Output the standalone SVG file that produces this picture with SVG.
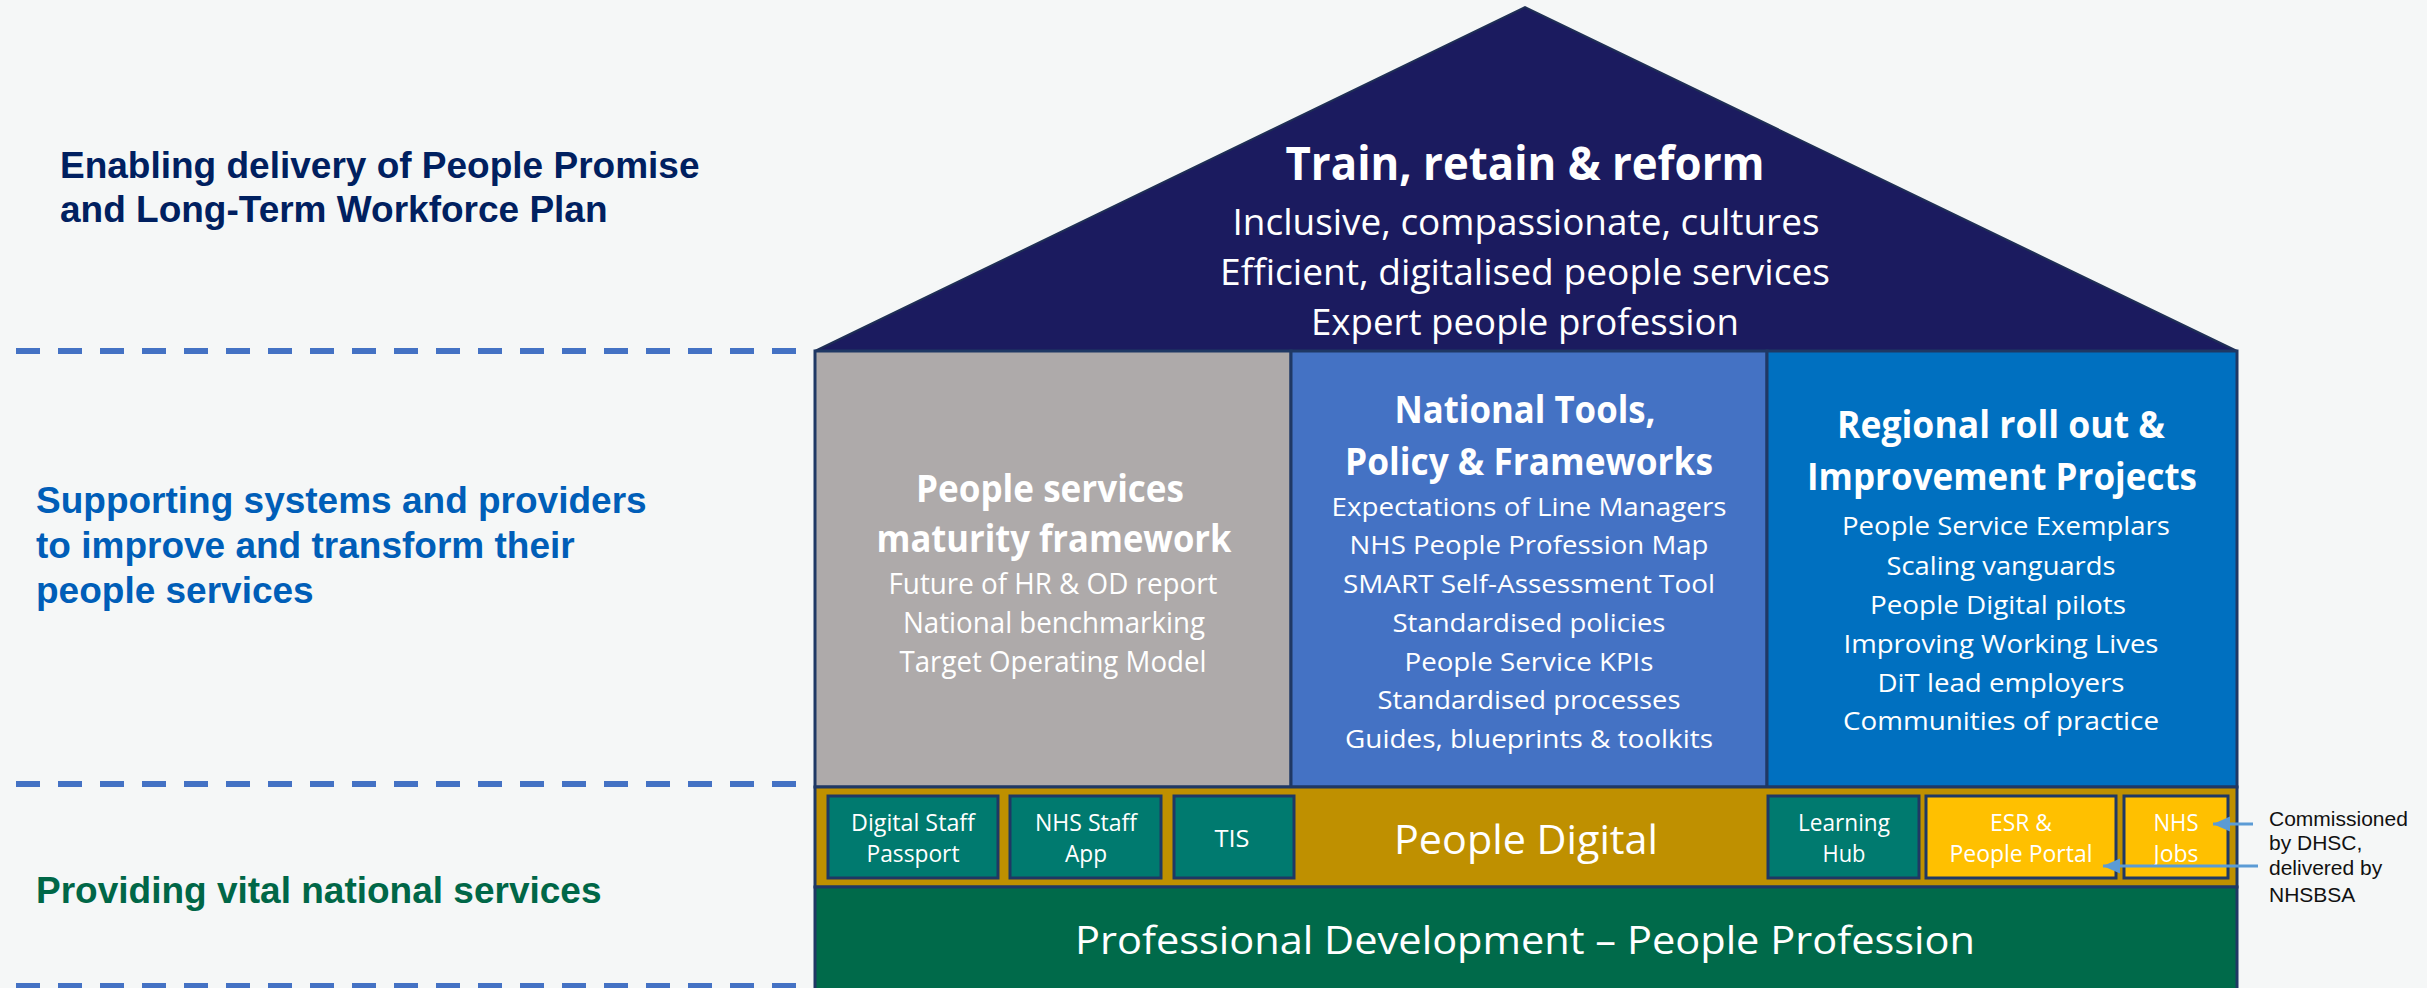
<svg xmlns="http://www.w3.org/2000/svg" width="2427" height="988" viewBox="0 0 2427 988">
  <defs>
    <style>
      .guide { stroke: #4472C4; stroke-width: 6; stroke-dasharray: 24 18; fill: none; }
      .lbl { font-family: "Liberation Sans", Arial, sans-serif; font-weight: bold; font-size: 37px; }
      .cal { font-family: "Open Sans", "Noto Sans", sans-serif; fill: #ffffff; text-anchor: middle; }
      .b { font-weight: bold; }
      .col { stroke: #1F3864; stroke-width: 3; }
      .tile { stroke: #1F3864; stroke-width: 3; }
      .teal { fill: #007A6F; }
      .gold { fill: #FFC000; }
      .tt { font-size: 23px; }
      .it { font-size: 26px; }
      .hd { font-size: 37px; font-weight: bold; }
      .conn { stroke: #5B9BD5; stroke-width: 3; fill: none; marker-end: url(#arrow); }
      .note { font-family: "Liberation Sans", Arial, sans-serif; font-size: 21px; fill: #111111; }
    </style>
    <marker id="arrow" markerUnits="userSpaceOnUse" markerWidth="18" markerHeight="16" refX="17" refY="7.5" orient="auto">
      <path d="M0,0 L17,7.5 L0,15 z" fill="#5B9BD5"/>
    </marker>
  </defs>

  <!-- page background -->
  <rect x="0" y="0" width="2427" height="988" fill="#F5F7F7"/>

  <!-- dashed tier separators -->
  <g id="separators">
    <line class="guide" x1="16" y1="351" x2="800" y2="351"/>
    <line class="guide" x1="16" y1="784" x2="800" y2="784"/>
    <line class="guide" x1="16" y1="986" x2="800" y2="986"/>
  </g>

  <!-- tier labels -->
  <g id="label-enabling" class="lbl" fill="#002060">
    <text x="60" y="178">Enabling delivery of People Promise</text>
    <text x="60" y="222">and Long-Term Workforce Plan</text>
  </g>
  <g id="label-supporting" class="lbl" fill="#005EB8">
    <text x="36" y="513">Supporting systems and providers</text>
    <text x="36" y="558">to improve and transform their</text>
    <text x="36" y="603">people services</text>
  </g>
  <g id="label-providing" class="lbl" fill="#006747">
    <text x="36" y="903">Providing vital national services</text>
  </g>

  <!-- roof -->
  <g id="roof">
    <polygon points="815,351 1525,7 2237,351" fill="#1B1B5F" stroke="#1F2F55" stroke-width="2"/>
    <text class="cal b" x="1525" y="180" font-size="46" textLength="479" lengthAdjust="spacingAndGlyphs">Train, retain &amp; reform</text>
    <text class="cal" x="1526" y="235" font-size="37" textLength="587" lengthAdjust="spacingAndGlyphs">Inclusive, compassionate, cultures</text>
    <text class="cal" x="1525" y="285" font-size="37" textLength="610" lengthAdjust="spacingAndGlyphs">Efficient, digitalised people services</text>
    <text class="cal" x="1525" y="335" font-size="37" textLength="428" lengthAdjust="spacingAndGlyphs">Expert people profession</text>
  </g>

  <!-- pillar: maturity framework -->
  <g id="pillar-maturity">
    <rect class="col" x="815" y="351" width="476" height="436" fill="#AEAAAA"/>
    <text class="cal hd" x="1050" y="502" textLength="268" lengthAdjust="spacingAndGlyphs">People services</text>
    <text class="cal hd" x="1054" y="552" textLength="355" lengthAdjust="spacingAndGlyphs">maturity framework</text>
    <text class="cal" font-size="29" x="1053" y="594" textLength="329" lengthAdjust="spacingAndGlyphs">Future of HR &amp; OD report</text>
    <text class="cal" font-size="29" x="1054" y="633" textLength="302" lengthAdjust="spacingAndGlyphs">National benchmarking</text>
    <text class="cal" font-size="29" x="1053" y="672" textLength="307" lengthAdjust="spacingAndGlyphs">Target Operating Model</text>
  </g>

  <!-- pillar: national tools -->
  <g id="pillar-national">
    <rect class="col" x="1291" y="351" width="476" height="436" fill="#4472C4"/>
    <text class="cal hd" x="1525" y="423" textLength="261" lengthAdjust="spacingAndGlyphs">National Tools,</text>
    <text class="cal hd" x="1529" y="475" textLength="368" lengthAdjust="spacingAndGlyphs">Policy &amp; Frameworks</text>
    <text class="cal it" x="1529" y="516" textLength="395" lengthAdjust="spacingAndGlyphs">Expectations of Line Managers</text>
    <text class="cal it" x="1529" y="554" textLength="359" lengthAdjust="spacingAndGlyphs">NHS People Profession Map</text>
    <text class="cal it" x="1529" y="593" textLength="372" lengthAdjust="spacingAndGlyphs">SMART Self-Assessment Tool</text>
    <text class="cal it" x="1529" y="632" textLength="273" lengthAdjust="spacingAndGlyphs">Standardised policies</text>
    <text class="cal it" x="1529" y="671" textLength="249" lengthAdjust="spacingAndGlyphs">People Service KPIs</text>
    <text class="cal it" x="1529" y="709" textLength="303" lengthAdjust="spacingAndGlyphs">Standardised processes</text>
    <text class="cal it" x="1529" y="748" textLength="368" lengthAdjust="spacingAndGlyphs">Guides, blueprints &amp; toolkits</text>
  </g>

  <!-- pillar: regional roll out -->
  <g id="pillar-regional">
    <rect class="col" x="1767" y="351" width="470" height="436" fill="#0070C0"/>
    <text class="cal hd" x="2001" y="438" textLength="328" lengthAdjust="spacingAndGlyphs">Regional roll out &amp;</text>
    <text class="cal hd" x="2002" y="490" textLength="390" lengthAdjust="spacingAndGlyphs">Improvement Projects</text>
    <text class="cal it" x="2006" y="535" textLength="328" lengthAdjust="spacingAndGlyphs">People Service Exemplars</text>
    <text class="cal it" x="2001" y="575" textLength="229" lengthAdjust="spacingAndGlyphs">Scaling vanguards</text>
    <text class="cal it" x="1998" y="614" textLength="256" lengthAdjust="spacingAndGlyphs">People Digital pilots</text>
    <text class="cal it" x="2001" y="653" textLength="315" lengthAdjust="spacingAndGlyphs">Improving Working Lives</text>
    <text class="cal it" x="2001" y="692" textLength="247" lengthAdjust="spacingAndGlyphs">DiT lead employers</text>
    <text class="cal it" x="2001" y="730" textLength="316" lengthAdjust="spacingAndGlyphs">Communities of practice</text>
  </g>

  <!-- People Digital band -->
  <g id="band-people-digital">
    <rect class="col" x="815" y="787" width="1422" height="100" fill="#BF9000"/>
    <text class="cal" x="1526" y="854" font-size="41" textLength="264" lengthAdjust="spacingAndGlyphs">People Digital</text>
  </g>

  <g id="tile-digital-staff-passport">
    <rect class="tile teal" x="828" y="796" width="170" height="82"/>
    <text class="cal tt" x="913" y="831" textLength="124" lengthAdjust="spacingAndGlyphs">Digital Staff</text>
    <text class="cal tt" x="913" y="862" textLength="93" lengthAdjust="spacingAndGlyphs">Passport</text>
  </g>
  <g id="tile-nhs-staff-app">
    <rect class="tile teal" x="1010" y="796" width="151" height="82"/>
    <text class="cal tt" x="1086" y="831" textLength="102" lengthAdjust="spacingAndGlyphs">NHS Staff</text>
    <text class="cal tt" x="1086" y="862" textLength="42" lengthAdjust="spacingAndGlyphs">App</text>
  </g>
  <g id="tile-tis">
    <rect class="tile teal" x="1174" y="796" width="120" height="82"/>
    <text class="cal tt" x="1232" y="847" textLength="35" lengthAdjust="spacingAndGlyphs">TIS</text>
  </g>
  <g id="tile-learning-hub">
    <rect class="tile teal" x="1768" y="796" width="151" height="82"/>
    <text class="cal tt" x="1844" y="831" textLength="92" lengthAdjust="spacingAndGlyphs">Learning</text>
    <text class="cal tt" x="1844" y="862" textLength="43" lengthAdjust="spacingAndGlyphs">Hub</text>
  </g>
  <g id="tile-esr-people-portal">
    <rect class="tile gold" x="1926" y="796" width="190" height="82"/>
    <text class="cal tt" x="2021" y="831" textLength="62" lengthAdjust="spacingAndGlyphs">ESR &amp;</text>
    <text class="cal tt" x="2021" y="862" textLength="143" lengthAdjust="spacingAndGlyphs">People Portal</text>
  </g>
  <g id="tile-nhs-jobs">
    <rect class="tile gold" x="2124" y="796" width="104" height="82"/>
    <text class="cal tt" x="2176" y="831" textLength="45" lengthAdjust="spacingAndGlyphs">NHS</text>
    <text class="cal tt" x="2176" y="862" textLength="45" lengthAdjust="spacingAndGlyphs">Jobs</text>
  </g>

  <!-- Professional Development foundation -->
  <g id="band-professional-development">
    <rect class="col" x="815" y="887" width="1422" height="110" fill="#006A4A"/>
    <text class="cal" x="1525" y="954" font-size="39" textLength="900" lengthAdjust="spacingAndGlyphs">Professional Development – People Profession</text>
  </g>

  <!-- annotation -->
  <g id="note-commissioned" class="note">
    <text x="2269" y="826">Commissioned</text>
    <text x="2269" y="850">by DHSC,</text>
    <text x="2269" y="875">delivered by</text>
    <text x="2269" y="902">NHSBSA</text>
  </g>

  <!-- connectors -->
  <g id="connectors">
    <line class="conn" x1="2253" y1="824" x2="2213" y2="824"/>
    <line class="conn" x1="2258" y1="866" x2="2103" y2="866"/>
  </g>
</svg>
